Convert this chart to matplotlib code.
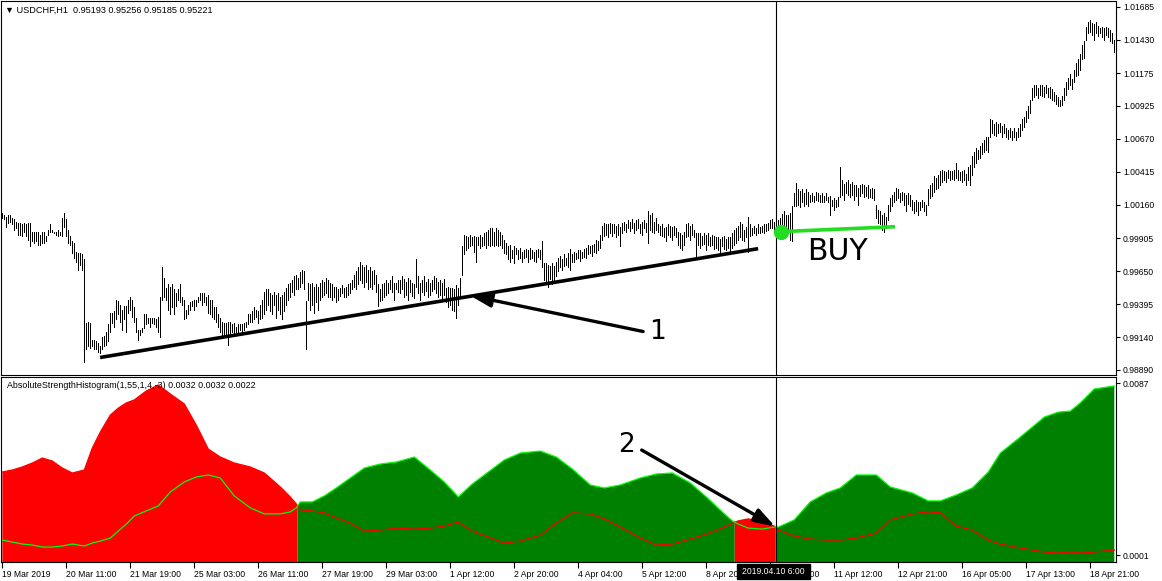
import numpy as np
import matplotlib
matplotlib.use("Agg")
import matplotlib.pyplot as plt
from matplotlib.patches import Rectangle

plt.rcParams['font.family'] = ['Liberation Sans', 'DejaVu Sans']

# ---------------------------------------------------------------------------
# USDCHF H1 bars (high / low), one value per bar
# ---------------------------------------------------------------------------
HIGH = [
    1.0010, 1.0008, 1.0007, 1.0008, 1.0008, 1.0006, 1.0005, 1.0003, 1.0002, 1.0002,  # 0
    1.0001, 1.0002, 1.0001, 1.0002, 1.0002, 0.9995, 0.9995, 0.9995, 0.9995, 0.9993,
    0.9995, 0.9995, 0.9992, 0.9997, 1.0001, 0.9997, 0.9995, 0.9995, 0.9997, 0.9995,
    1.0006, 1.0010, 1.0005, 0.9997, 0.9992, 0.9988, 0.9987, 0.9980, 0.9979, 0.9979,
    0.9978, 0.9974, 0.9925, 0.9926, 0.9925, 0.9912, 0.9912, 0.9911, 0.9910, 0.9907,
    0.9914, 0.9915, 0.9918, 0.9924, 0.9933, 0.9933, 0.9934, 0.9943, 0.9942, 0.9939,
    0.9935, 0.9938, 0.9938, 0.9943, 0.9945, 0.9943, 0.9937, 0.9929, 0.9920, 0.9920,  # 60
    0.9921, 0.9932, 0.9932, 0.9929, 0.9929, 0.9929, 0.9929, 0.9928, 0.9930, 0.9945,
    0.9968, 0.9960, 0.9952, 0.9955, 0.9953, 0.9955, 0.9951, 0.9948, 0.9951, 0.9955,
    0.9945, 0.9943, 0.9935, 0.9939, 0.9941, 0.9942, 0.9943, 0.9943, 0.9945, 0.9948,
    0.9948, 0.9948, 0.9945, 0.9947, 0.9943, 0.9943, 0.9937, 0.9937, 0.9932, 0.9929,  # 100
    0.9926, 0.9925, 0.9925, 0.9926, 0.9926, 0.9924, 0.9925, 0.9922, 0.9924, 0.9924,
    0.9924, 0.9925, 0.9926, 0.9932, 0.9932, 0.9934, 0.9937, 0.9935, 0.9934, 0.9939,
    0.9943, 0.9949, 0.9951, 0.9951, 0.9948, 0.9947, 0.9949, 0.9947, 0.9948, 0.9945,
    0.9947, 0.9949, 0.9952, 0.9955, 0.9956, 0.9958, 0.9961, 0.9962, 0.9960, 0.9964,
    0.9966, 0.9965, 0.9942, 0.9956, 0.9955, 0.9956, 0.9953, 0.9955, 0.9953, 0.9956,  # 150
    0.9958, 0.9957, 0.9960, 0.9958, 0.9956, 0.9955, 0.9953, 0.9953, 0.9951, 0.9952,
    0.9954, 0.9952, 0.9953, 0.9955, 0.9956, 0.9958, 0.9962, 0.9965, 0.9968, 0.9972,
    0.9970, 0.9968, 0.9970, 0.9966, 0.9968, 0.9965, 0.9966, 0.9962, 0.9955, 0.9951,
    0.9955, 0.9956, 0.9958, 0.9956, 0.9958, 0.9961, 0.9956, 0.9956, 0.9958, 0.9958,
    0.9961, 0.9959, 0.9957, 0.9960, 0.9958, 0.9956, 0.9955, 0.9974, 0.9961, 0.9956,  # 200
    0.9958, 0.9961, 0.9957, 0.9959, 0.9956, 0.9958, 0.9961, 0.9960, 0.9957, 0.9958,
    0.9956, 0.9959, 0.9952, 0.9953, 0.9952, 0.9952, 0.9951, 0.9954, 0.9952, 0.9960,
    0.9984, 0.9993, 0.9992, 0.9991, 0.9993, 0.9991, 0.9992, 0.9991, 0.9991, 0.9993,
    0.9991, 0.9994, 0.9995, 0.9997, 0.9998, 0.9998, 0.9995, 0.9998, 0.9997, 0.9995,
    0.9993, 0.9989, 0.9987, 0.9984, 0.9985, 0.9981, 0.9984, 0.9983, 0.9981, 0.9983,  # 250
    0.9980, 0.9981, 0.9982, 0.9981, 0.9983, 0.9981, 0.9980, 0.9981, 0.9982, 0.9981,
    0.9988, 0.9971, 0.9971, 0.9970, 0.9969, 0.9971, 0.9969, 0.9972, 0.9975, 0.9977,
    0.9974, 0.9978, 0.9975, 0.9979, 0.9982, 0.9978, 0.9980, 0.9979, 0.9981, 0.9981,
    0.9980, 0.9982, 0.9983, 0.9985, 0.9984, 0.9985, 0.9986, 0.9989, 0.9988, 0.9993,
    1.0000, 1.0002, 1.0001, 1.0001, 1.0002, 1.0001, 1.0001, 1.0000, 1.0001, 0.9999,  # 300
    1.0002, 1.0003, 1.0001, 1.0004, 1.0003, 1.0005, 1.0002, 1.0004, 1.0005, 1.0001,
    1.0003, 1.0004, 1.0002, 1.0011, 1.0008, 1.0010, 1.0003, 1.0006, 1.0001, 1.0000,
    1.0001, 0.9998, 0.9999, 1.0001, 1.0000, 0.9999, 1.0000, 0.9998, 0.9995, 0.9994,
    0.9993, 0.9995, 1.0001, 1.0002, 1.0000, 1.0001, 0.9997, 0.9994, 0.9994, 0.9994,
    0.9992, 0.9994, 0.9993, 0.9994, 0.9991, 0.9993, 0.9992, 0.9991, 0.9991, 0.9990,  # 350
    0.9991, 0.9992, 0.9990, 0.9991, 0.9991, 0.9994, 0.9997, 0.9998, 1.0000, 1.0003,
    1.0001, 0.9997, 0.9999, 1.0007, 1.0001, 0.9998, 1.0000, 0.9998, 1.0001, 0.9999,
    1.0000, 1.0001, 1.0001, 1.0002, 1.0004, 1.0005, 1.0003, 1.0005, 1.0004, 1.0006,
    1.0009, 1.0011, 1.0008, 1.0008, 1.0010, 1.0015, 1.0025, 1.0033, 1.0028, 1.0027,
    1.0028, 1.0025, 1.0028, 1.0026, 1.0024, 1.0025, 1.0023, 1.0026, 1.0025, 1.0024,  # 400
    1.0025, 1.0023, 1.0025, 1.0022, 1.0023, 1.0020, 1.0021, 1.0020, 1.0022, 1.0045,
    1.0035, 1.0032, 1.0034, 1.0035, 1.0032, 1.0034, 1.0031, 1.0031, 1.0029, 1.0031,
    1.0032, 1.0031, 1.0030, 1.0031, 1.0028, 1.0029, 1.0028, 1.0016, 1.0012, 1.0011,
    1.0008, 1.0010, 1.0007, 1.0016, 1.0021, 1.0024, 1.0026, 1.0029, 1.0028, 1.0025,
    1.0026, 1.0025, 1.0024, 1.0025, 1.0024, 1.0020, 1.0018, 1.0020, 1.0018, 1.0018,  # 450
    1.0020, 1.0018, 1.0016, 1.0028, 1.0031, 1.0033, 1.0038, 1.0037, 1.0039, 1.0042,
    1.0043, 1.0042, 1.0041, 1.0043, 1.0042, 1.0042, 1.0043, 1.0048, 1.0043, 1.0041,
    1.0042, 1.0043, 1.0040, 1.0045, 1.0047, 1.0054, 1.0057, 1.0060, 1.0058, 1.0061,
    1.0064, 1.0066, 1.0068, 1.0068, 1.0082, 1.0081, 1.0078, 1.0080, 1.0078, 1.0079,
    1.0077, 1.0078, 1.0075, 1.0074, 1.0075, 1.0073, 1.0075, 1.0072, 1.0075, 1.0078,  # 500
    1.0082, 1.0084, 1.0088, 1.0092, 1.0097, 1.0106, 1.0108, 1.0108, 1.0106, 1.0108,
    1.0108, 1.0107, 1.0108, 1.0106, 1.0107, 1.0105, 1.0103, 1.0101, 1.0099, 1.0097,
    1.0100, 1.0106, 1.0111, 1.0114, 1.0117, 1.0113, 1.0120, 1.0125, 1.0128, 1.0132,
    1.0139, 1.0142, 1.0153, 1.0157, 1.0158, 1.0156, 1.0155, 1.0157, 1.0154, 1.0152,
    1.0153, 1.0152, 1.0153, 1.0152, 1.0151, 1.0148, 1.0143,                          # 550
]
LOW = [
    1.0006, 1.0005, 0.9999, 1.0002, 1.0003, 1.0001, 0.9997, 0.9998, 0.9993, 0.9993,  # 0
    0.9992, 0.9995, 0.9992, 0.9989, 0.9984, 0.9988, 0.9987, 0.9988, 0.9985, 0.9985,
    0.9987, 0.9987, 0.9988, 0.9993, 0.9995, 0.9995, 0.9994, 0.9993, 0.9992, 0.9993,
    0.9992, 0.9999, 0.9992, 0.9987, 0.9985, 0.9979, 0.9975, 0.9972, 0.9966, 0.9970,
    0.9966, 0.9895, 0.9905, 0.9907, 0.9906, 0.9907, 0.9905, 0.9905, 0.9903, 0.9902,
    0.9905, 0.9907, 0.9908, 0.9911, 0.9918, 0.9925, 0.9922, 0.9928, 0.9932, 0.9926,
    0.9920, 0.9928, 0.9918, 0.9933, 0.9935, 0.9930, 0.9926, 0.9918, 0.9912, 0.9916,  # 60
    0.9918, 0.9921, 0.9924, 0.9925, 0.9922, 0.9925, 0.9924, 0.9922, 0.9918, 0.9914,
    0.9943, 0.9945, 0.9943, 0.9935, 0.9932, 0.9937, 0.9932, 0.9938, 0.9943, 0.9941,
    0.9939, 0.9928, 0.9929, 0.9932, 0.9935, 0.9938, 0.9935, 0.9938, 0.9941, 0.9943,
    0.9939, 0.9941, 0.9939, 0.9933, 0.9932, 0.9930, 0.9928, 0.9926, 0.9922, 0.9918,  # 100
    0.9914, 0.9916, 0.9915, 0.9908, 0.9916, 0.9918, 0.9916, 0.9918, 0.9918, 0.9920,
    0.9918, 0.9920, 0.9922, 0.9924, 0.9926, 0.9926, 0.9928, 0.9930, 0.9925, 0.9928,
    0.9929, 0.9932, 0.9935, 0.9939, 0.9934, 0.9932, 0.9939, 0.9929, 0.9935, 0.9932,
    0.9928, 0.9934, 0.9939, 0.9943, 0.9945, 0.9949, 0.9947, 0.9951, 0.9951, 0.9953,
    0.9956, 0.9951, 0.9905, 0.9943, 0.9935, 0.9939, 0.9933, 0.9941, 0.9935, 0.9943,  # 150
    0.9945, 0.9947, 0.9948, 0.9945, 0.9945, 0.9943, 0.9945, 0.9941, 0.9943, 0.9946,
    0.9948, 0.9945, 0.9945, 0.9947, 0.9948, 0.9951, 0.9953, 0.9951, 0.9955, 0.9958,
    0.9956, 0.9953, 0.9957, 0.9951, 0.9953, 0.9951, 0.9955, 0.9949, 0.9938, 0.9942,
    0.9943, 0.9945, 0.9947, 0.9948, 0.9951, 0.9949, 0.9943, 0.9951, 0.9949, 0.9948,
    0.9951, 0.9945, 0.9947, 0.9943, 0.9949, 0.9946, 0.9944, 0.9953, 0.9948, 0.9943,  # 200
    0.9949, 0.9947, 0.9950, 0.9945, 0.9947, 0.9950, 0.9951, 0.9948, 0.9945, 0.9947,
    0.9944, 0.9947, 0.9941, 0.9937, 0.9939, 0.9935, 0.9934, 0.9929, 0.9939, 0.9945,
    0.9962, 0.9978, 0.9981, 0.9983, 0.9984, 0.9985, 0.9980, 0.9972, 0.9985, 0.9983,
    0.9984, 0.9985, 0.9983, 0.9985, 0.9984, 0.9985, 0.9984, 0.9985, 0.9984, 0.9985,
    0.9983, 0.9979, 0.9978, 0.9974, 0.9972, 0.9975, 0.9971, 0.9978, 0.9974, 0.9975,  # 250
    0.9972, 0.9975, 0.9976, 0.9972, 0.9974, 0.9975, 0.9973, 0.9972, 0.9976, 0.9974,
    0.9968, 0.9958, 0.9956, 0.9953, 0.9959, 0.9955, 0.9956, 0.9961, 0.9965, 0.9968,
    0.9966, 0.9969, 0.9970, 0.9968, 0.9966, 0.9972, 0.9972, 0.9974, 0.9975, 0.9973,
    0.9975, 0.9976, 0.9975, 0.9978, 0.9979, 0.9977, 0.9980, 0.9979, 0.9981, 0.9983,
    0.9989, 0.9992, 0.9993, 0.9991, 0.9994, 0.9992, 0.9994, 0.9991, 0.9993, 0.9984,  # 300
    0.9994, 0.9997, 0.9995, 0.9998, 0.9996, 0.9998, 0.9994, 0.9997, 0.9998, 0.9994,
    0.9993, 0.9998, 0.9995, 0.9987, 0.9997, 0.9995, 0.9994, 0.9997, 0.9995, 0.9993,
    0.9992, 0.9991, 0.9988, 0.9993, 0.9991, 0.9989, 0.9993, 0.9991, 0.9985, 0.9983,
    0.9981, 0.9985, 0.9991, 0.9992, 0.9989, 0.9993, 0.9991, 0.9976, 0.9985, 0.9983,
    0.9985, 0.9986, 0.9981, 0.9985, 0.9984, 0.9985, 0.9982, 0.9983, 0.9981, 0.9980,  # 350
    0.9984, 0.9982, 0.9981, 0.9983, 0.9980, 0.9983, 0.9985, 0.9987, 0.9989, 0.9991,
    0.9989, 0.9988, 0.9991, 0.9980, 0.9992, 0.9993, 0.9994, 0.9993, 0.9994, 0.9994,
    0.9995, 0.9994, 0.9996, 0.9997, 0.9998, 0.9998, 0.9997, 0.9998, 0.9999, 1.0000,
    1.0001, 0.9998, 0.9994, 0.9997, 0.9989, 0.9988, 1.0015, 1.0015, 1.0016, 1.0014,
    1.0018, 1.0015, 1.0017, 1.0015, 1.0018, 1.0019, 1.0018, 1.0020, 1.0019, 1.0018,  # 400
    1.0018, 1.0018, 1.0020, 1.0018, 1.0008, 1.0015, 1.0012, 1.0014, 1.0015, 1.0022,
    1.0024, 1.0020, 1.0025, 1.0024, 1.0022, 1.0024, 1.0020, 1.0023, 1.0016, 1.0023,
    1.0025, 1.0022, 1.0023, 1.0021, 1.0022, 1.0021, 1.0020, 1.0006, 1.0002, 1.0001,
    0.9997, 0.9995, 0.9998, 1.0004, 1.0011, 1.0015, 1.0018, 1.0020, 1.0021, 1.0018,
    1.0020, 1.0016, 1.0011, 1.0017, 1.0015, 1.0012, 1.0010, 1.0011, 1.0008, 1.0012,  # 450
    1.0014, 1.0011, 1.0008, 1.0016, 1.0021, 1.0023, 1.0026, 1.0028, 1.0029, 1.0031,
    1.0034, 1.0035, 1.0034, 1.0037, 1.0035, 1.0036, 1.0035, 1.0037, 1.0035, 1.0035,
    1.0034, 1.0035, 1.0031, 1.0035, 1.0031, 1.0039, 1.0045, 1.0048, 1.0051, 1.0052,
    1.0055, 1.0057, 1.0058, 1.0057, 1.0068, 1.0071, 1.0070, 1.0069, 1.0071, 1.0072,
    1.0068, 1.0071, 1.0068, 1.0067, 1.0068, 1.0066, 1.0068, 1.0066, 1.0068, 1.0069,  # 500
    1.0074, 1.0076, 1.0080, 1.0083, 1.0087, 1.0097, 1.0099, 1.0101, 1.0098, 1.0101,
    1.0100, 1.0099, 1.0102, 1.0099, 1.0098, 1.0097, 1.0096, 1.0094, 1.0092, 1.0092,
    1.0093, 1.0097, 1.0101, 1.0105, 1.0108, 1.0105, 1.0111, 1.0115, 1.0116, 1.0120,
    1.0128, 1.0129, 1.0143, 1.0148, 1.0149, 1.0147, 1.0143, 1.0148, 1.0146, 1.0148,
    1.0145, 1.0143, 1.0147, 1.0145, 1.0142, 1.0141, 1.0134,                          # 550
]

# AbsoluteStrengthHistogram: bulls / bears lines sampled at these bars
HIST_BAR = [0, 5, 10, 15, 20, 25, 30, 35, 41, 45, 49, 54, 58, 62, 66, 72, 78, 84, 91, 97,
            103, 109, 116, 124, 131, 139, 144, 147, 149, 155, 161, 167, 174, 181, 189, 197,
            206, 214, 221, 228, 235, 243, 251, 259, 269, 277, 285, 294, 301, 309, 319, 327,
            335, 344, 352, 360, 365, 368, 373, 380, 386, 388, 396, 404, 412, 419, 427, 437,
            444, 455, 463, 469, 477, 485, 493, 499, 509, 521, 528, 534, 539, 546, 556]
BULLS = [0.00085, 0.00075, 0.00065, 0.00060, 0.00050, 0.00050, 0.00055, 0.00065, 0.00055, 0.00070,
         0.00080, 0.00095, 0.00130, 0.00165, 0.00206, 0.00231, 0.00256, 0.00326, 0.00376, 0.00401,
         0.00411, 0.00396, 0.00306, 0.00246, 0.00216, 0.00216, 0.00226, 0.00246, 0.00276, 0.00276,
         0.00306, 0.00346, 0.00396, 0.00446, 0.00466, 0.00476, 0.00501, 0.00436, 0.00376, 0.00301,
         0.00366, 0.00426, 0.00486, 0.00521, 0.00531, 0.00501, 0.00441, 0.00361, 0.00346, 0.00361,
         0.00396, 0.00416, 0.00421, 0.00371, 0.00301, 0.00226, 0.00181, 0.00165, 0.00145, 0.00140,
         0.00150, 0.00150, 0.00186, 0.00276, 0.00321, 0.00346, 0.00411, 0.00411, 0.00351, 0.00321,
         0.00281, 0.00281, 0.00311, 0.00346, 0.00426, 0.00521, 0.00601, 0.00701, 0.00726, 0.00731,
         0.00772, 0.00842, 0.00857]
BEARS = [0.00426, 0.00436, 0.00451, 0.00471, 0.00496, 0.00481, 0.00446, 0.00421, 0.00436, 0.00546,
         0.00626, 0.00711, 0.00746, 0.00772, 0.00787, 0.00832, 0.00862, 0.00817, 0.00767, 0.00661,
         0.00541, 0.00501, 0.00471, 0.00451, 0.00421, 0.00351, 0.00301, 0.00266, 0.00236, 0.00231,
         0.00221, 0.00196, 0.00170, 0.00130, 0.00135, 0.00145, 0.00140, 0.00145, 0.00155, 0.00175,
         0.00130, 0.00100, 0.00070, 0.00080, 0.00110, 0.00170, 0.00221, 0.00216, 0.00191, 0.00150,
         0.00095, 0.00060, 0.00065, 0.00090, 0.00115, 0.00145, 0.00170, 0.00181, 0.00191, 0.00175,
         0.00155, 0.00135, 0.00105, 0.00090, 0.00085, 0.00085, 0.00095, 0.00120, 0.00186, 0.00216,
         0.00226, 0.00221, 0.00155, 0.00135, 0.00085, 0.00065, 0.00045, 0.00025, 0.00020, 0.00025,
         0.00020, 0.00025, 0.00035]

PRICE_TICKS = [1.01685, 1.01430, 1.01175, 1.00925, 1.00670, 1.00415,
               1.00160, 0.99905, 0.99650, 0.99395, 0.99140, 0.98890]
PRICE_LABELS = ['1.01685', '1.01430', '1.01175', '1.00925', '1.00670', '1.00415',
                '1.00160', '0.99905', '0.99650', '0.99395', '0.99140', '0.98890']
IND_TICKS = [0.0087, 0.0001]
IND_LABELS = ['0.0087', '0.0001']

DATE_BARS = [0, 32, 64, 96, 128, 160, 192, 224, 256, 288, 320, 352, 384, 416, 448, 480, 512, 544]
DATE_LABELS = ['19 Mar 2019', '20 Mar 11:00', '21 Mar 19:00', '25 Mar 03:00', '26 Mar 11:00',
               '27 Mar 19:00', '29 Mar 03:00', '1 Apr 12:00', '2 Apr 20:00', '4 Apr 04:00',
               '5 Apr 12:00', '8 Apr 20:00', '10 Apr 04:00', '11 Apr 12:00', '12 Apr 21:00',
               '16 Apr 05:00', '17 Apr 13:00', '18 Apr 21:00']

# drawn objects (bar index, price)
TREND_BARS = [48.9, 377.9]
TREND_PRICES = [0.98985, 0.99823]
BUY_BARS = [389.35, 446.35]
BUY_PRICES = [0.99954, 0.99992]
CURSOR_BAR = 386.85

# ---------------------------------------------------------------------------
W, H = 1162, 581


def box(l, t, r, b):
    return [l / W, 1 - b / H, (r - l) / W, (b - t) / H]


fig = plt.figure(figsize=(W / 100, H / 100), dpi=100, facecolor='white')
ax = fig.add_axes(box(1, 1, 1116, 374.5))
ax2 = fig.add_axes(box(1, 377, 1116, 562))

bars = np.arange(len(HIGH))

# --- price panel
ax.vlines(bars, LOW, HIGH, color='black', lw=0.5, antialiased=False)
ax.set_xlim(-0.65, 556.85)
ax.set_ylim(0.98854, 1.01730)
ax.set_xticks([])
ax.yaxis.tick_right()
ax.set_yticks(PRICE_TICKS, PRICE_LABELS)
ax.tick_params(axis='y', length=3, width=0.8, pad=2, labelsize=6.2)
ax.axvline(CURSOR_BAR, color='black', lw=0.8)

ax.plot(TREND_BARS, TREND_PRICES, color='black', lw=2.6, solid_capstyle='butt')
ax.annotate('', xy=(233.9, 0.99462), xytext=(320.4, 0.99185),
            arrowprops=dict(arrowstyle='-|>,head_length=0.9,head_width=0.3', lw=2.4,
                            color='black', shrinkA=0, shrinkB=0, mutation_scale=14))
ax.text(327.8, 0.99185, '1', fontsize=19, family='DejaVu Sans', ha='center', va='center')

ax.plot(BUY_BARS, BUY_PRICES, color='#22dd22', lw=2.6, solid_capstyle='butt')
ax.plot(BUY_BARS[0], BUY_PRICES[0], 'o', ms=10, color='#22dd22', mec='#22dd22')
ax.text(417.85, 0.99800, 'BUY', fontsize=21.5, family='DejaVu Sans', ha='center', va='center')

# --- histogram panel
hb = np.array(HIST_BAR, float)
bu = np.array(BULLS)
be = np.array(BEARS)
xx, A, B = [hb[0]], [bu[0]], [be[0]]
for i in range(1, len(hb)):
    d0, d1 = bu[i - 1] - be[i - 1], bu[i] - be[i]
    if d0 * d1 < 0:  # add the crossing so both colours meet exactly there
        t = d0 / (d0 - d1)
        yc = bu[i - 1] + t * (bu[i] - bu[i - 1])
        xx.append(hb[i - 1] + t * (hb[i] - hb[i - 1]))
        A.append(yc)
        B.append(yc)
    xx.append(hb[i])
    A.append(bu[i])
    B.append(be[i])
xx, A, B = np.array(xx), np.array(A), np.array(B)

y_lo, y_hi = -0.00025, 0.00902
ax2.fill_between(xx, y_lo, A, where=A >= B, color='#008000', lw=0)
ax2.fill_between(xx, y_lo, B, where=B >= A, color='#ff0000', lw=0)
ax2.plot(hb, be, color='#ff0000', lw=0.9)
ax2.plot(hb, bu, color='#00ff00', lw=0.9)
ax2.axvline(CURSOR_BAR, color='black', lw=0.8)

ax2.annotate('', xy=(386.4, 0.00153), xytext=(319.7, 0.00536),
             arrowprops=dict(arrowstyle='-|>,head_length=0.9,head_width=0.3', lw=2.4,
                             color='black', shrinkA=0, shrinkB=0, mutation_scale=14))
ax2.text(311.85, 0.00561, '2', fontsize=19, family='DejaVu Sans', ha='center', va='center')

ax2.set_xlim(-0.65, 556.85)
ax2.set_ylim(y_lo, y_hi)
ax2.yaxis.tick_right()
ax2.set_yticks(IND_TICKS, IND_LABELS)
ax2.tick_params(axis='y', length=3, width=0.8, pad=2, labelsize=6.2)
ax2.set_xticks(DATE_BARS, DATE_LABELS)
ax2.tick_params(axis='x', length=4, width=0.8, pad=1.5, labelsize=6.2)
for lbl in ax2.get_xticklabels():
    lbl.set_ha('left')

for a in (ax, ax2):
    for s in a.spines.values():
        s.set_color('black')
        s.set_linewidth(0.8)

# headers
fig.text(5 / W, 1 - 10 / H, '\u25bc USDCHF,H1  0.95193 0.95256 0.95185 0.95221',
         fontsize=6.6, va='center', ha='left')
fig.text(7 / W, 1 - 385 / H, 'AbsoluteStrengthHistogram(1,55,1,4,-3) 0.0032 0.0032 0.0022',
         fontsize=6.4, va='center', ha='left')

# crosshair date box
fig.patches.append(Rectangle((737 / W, 1 - 579 / H), 73 / W, 15 / H,
                             transform=fig.transFigure, color='black', zorder=5))
fig.text(773.5 / W, 1 - 571.5 / H, '2019.04.10 6:00', color='white', fontsize=6.2,
         ha='center', va='center', zorder=6)

fig.savefig('out.png', dpi=100, facecolor='white')
